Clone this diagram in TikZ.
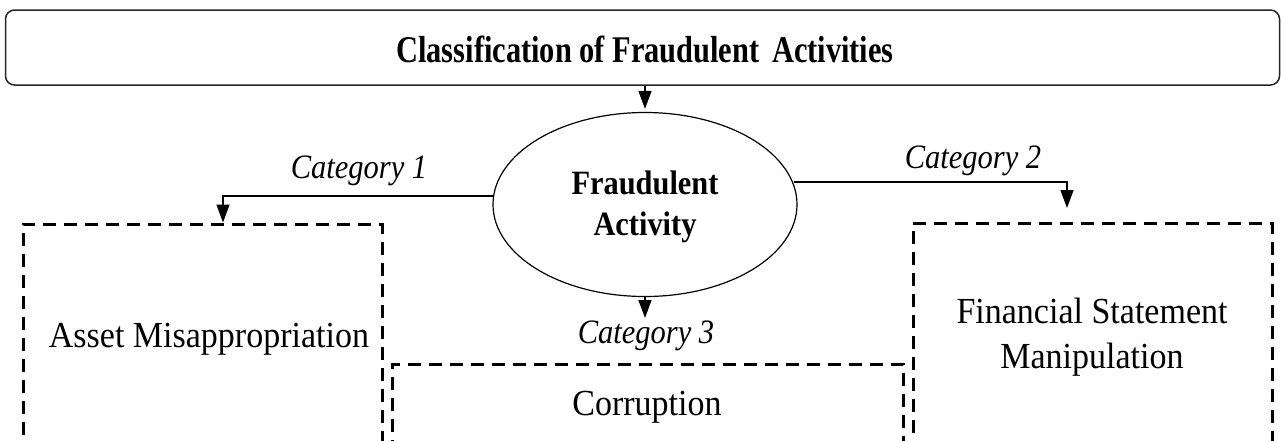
\documentclass[tikz,border=0pt]{standalone}
\usepackage{fontspec}
\setmainfont{Liberation Serif}
\usetikzlibrary{arrows.meta,shapes.geometric}
\newcommand{\txs}[2]{\scalebox{1}[#1]{\begin{tabular}[b]{@{}c@{}}#2\end{tabular}}}
\tikzset{
  lbl/.style={inner sep=0pt, anchor=base, text=black},
  body/.style={lbl, font=\fontsize{34}{40.8}\selectfont},
  bold/.style={lbl, font=\fontsize{30.4}{36.5}\selectfont\bfseries},
  cat/.style={lbl, font=\fontsize{30.5}{36.6}\selectfont\itshape},
  dbox/.style={draw=black, line width=3pt, dash pattern=on 13pt off 8pt, inner sep=0pt},
  conn/.style={draw=black, line width=1.4pt},
  arr/.style={conn, -{Triangle[width=13pt,length=18pt]}},
}
\begin{document}
\begin{tikzpicture}[x=1pt,y=-1pt]
\useasboundingbox (0,0) rectangle (1283,440);
\clip (0,0) rectangle (1283,440);
% title box
\node[draw=black!85, line width=1.5pt, rounded corners=9pt, minimum width=1274pt, minimum height=75pt, inner sep=0pt] (top) at (642.5,47.5) {};
\node[bold] (toptext) at (645,62) {\txs{1.24}{Classification of Fraudulent\, Activities}};
% ellipse
\node[draw=black, line width=1.2pt, ellipse, minimum width=304pt, minimum height=184pt, inner sep=0pt] (fa) at (645,204.5) {};
\node[bold] (fatext) at (645,235) {\txs{1.12}{Fraudulent\\Activity}};
% dashed boxes (bottom edges fall just outside the picture)
\node[dbox, minimum width=359pt, minimum height=218pt] (asset) at (202.5,333) {};
\node[dbox, minimum width=511pt, minimum height=78pt] (corr) at (647.5,403) {};
\node[dbox, minimum width=359pt, minimum height=219pt] (fin) at (1092.5,332.5) {};
\node[body] (assettext) at (209,347) {\txs{1.08}{Asset Misappropriation}};
\node[body] (corrtext) at (647,415) {\txs{1.08}{Corruption}};
\node[body] (fintext) at (1092,368) {\txs{1.08}{Financial Statement\\Manipulation}};
% category labels
\node[cat] (c1lab) at (359,178) {\txs{1.12}{Category 1}};
\node[cat] (c2lab) at (973,168) {\txs{1.12}{Category 2}};
\node[cat] (c3lab) at (646,343) {\txs{1.12}{Category 3}};
% connectors
\draw[arr, shorten >=3pt] (top.south -| fa.north) -- (fa.north);
\coordinate (c1) at (223,196);
\draw[arr] (fa.177 |- c1) -- (c1) -- (c1 |- asset.north);
\coordinate (c2) at (1067,182);
\coordinate (c2e) at (1067,208);
\draw[arr] (fa.8.5 |- c2) -- (c2) -- (c2e);
\coordinate (c3e) at (645,318);
\draw[arr] (fa.south) -- (c3e);
\end{tikzpicture}
\end{document}
